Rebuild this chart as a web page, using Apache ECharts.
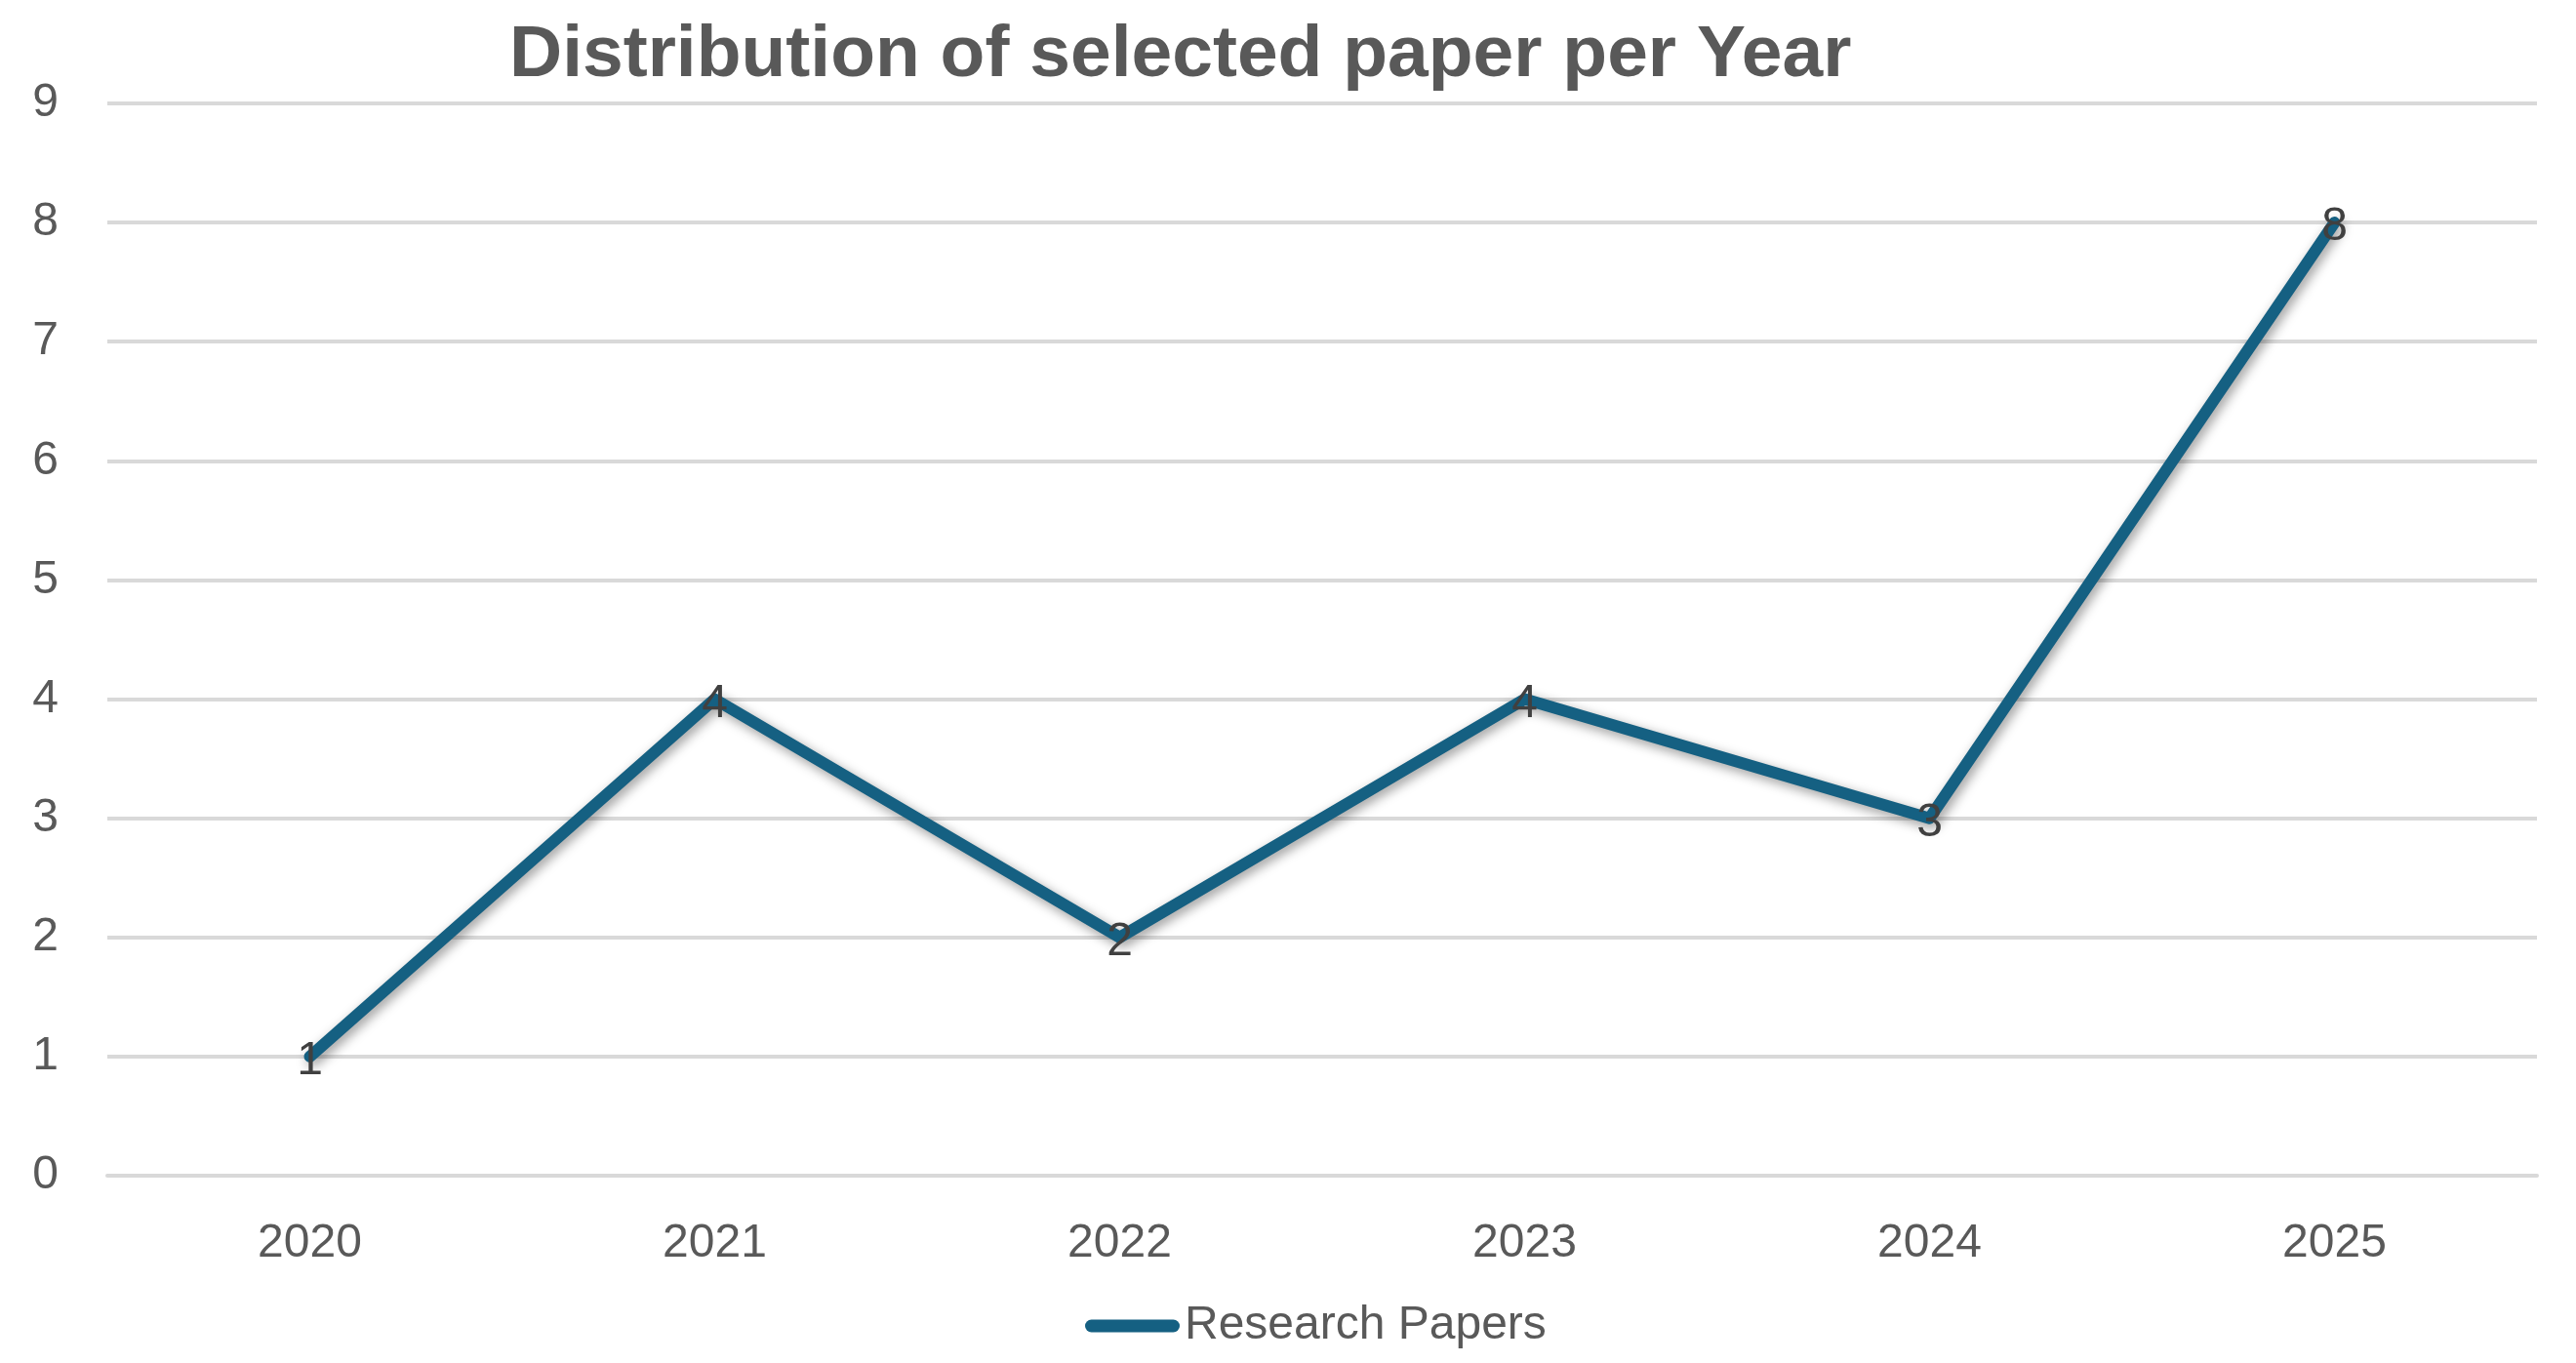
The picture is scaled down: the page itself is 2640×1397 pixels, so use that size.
<!DOCTYPE html>
<html>
<head>
<meta charset="utf-8">
<script src="https://cdn.jsdelivr.net/npm/echarts@6/dist/echarts.min.js"></script>
<style>
	html, body { margin: 0; padding: 0; background: #fff; }
	#main { width: 2640px; height: 1397px; }
</style>
</head>
<body>
<div id="main"></div>
<script>
var years = ['2020', '2021', '2022', '2023', '2024', '2025'];
var papers = [1, 4, 2, 4, 3, 8];
var seriesName = 'Research Papers';
var chartTitle = 'Distribution of selected paper per Year';

var chat1 = {};

$init();

function $init() {
	var dom = document.getElementById('main');
	chat1 = echarts.init(dom);
	var option = {
		backgroundColor: '#ffffff',
		title: {
			text: chartTitle,
			left: 517,
			top: 15,
			textStyle: {
				fontFamily: 'Liberation Sans',
				fontWeight: 'bold',
				fontSize: 75,
				color: '#595959'
			}
		},
		legend: {
			data: [seriesName],
			left: 1107,
			top: 1330,
			itemWidth: 97,
			itemHeight: 13,
			icon: 'path://M6.5,0 h84 a6.5,6.5 0 0 1 0,13 h-84 a6.5,6.5 0 0 1 0,-13z',
			textStyle: {
				fontFamily: 'Liberation Sans',
				fontSize: 48,
				color: '#595959'
			}
		},
		grid: {
			left: 110,
			right: 40,
			top: 106,
			bottom: 192
		},
		xAxis: {
			type: 'category',
			data: years,
			boundaryGap: true,
			axisLine: { show: true, lineStyle: { color: '#d9d9d9', width: 4 } },
			axisTick: { show: false },
			axisLabel: {
				margin: 46,
				fontFamily: 'Liberation Sans',
				fontSize: 48,
				color: '#595959'
			}
		},
		yAxis: {
			type: 'value',
			min: 0,
			max: 9,
			interval: 1,
			axisLine: { show: false },
			axisTick: { show: false },
			splitLine: { lineStyle: { color: '#d9d9d9', width: 4 } },
			axisLabel: {
				margin: 50,
				fontFamily: 'Liberation Sans',
				fontSize: 48,
				color: '#595959'
			}
		},
		series: [
			{
				name: seriesName,
				type: 'line',
				data: papers,
				symbol: 'circle',
				symbolSize: 1,
				itemStyle: { color: '#156082' },
				lineStyle: {
					color: '#156082',
					width: 12,
					cap: 'round',
					join: 'round',
					shadowColor: 'rgba(0,0,0,0.4)',
					shadowBlur: 12,
					shadowOffsetX: 3,
					shadowOffsetY: 4
				},
				label: {
					show: true,
					position: 'inside',
					offset: [0, 5],
					fontFamily: 'Liberation Sans',
					fontSize: 48,
					color: '#404040'
				}
			}
		]
	};
	chat1.setOption(option, true);
}

window.addEventListener('resize', function () {
	chat1.resize();
});
</script>
</body>
</html>
